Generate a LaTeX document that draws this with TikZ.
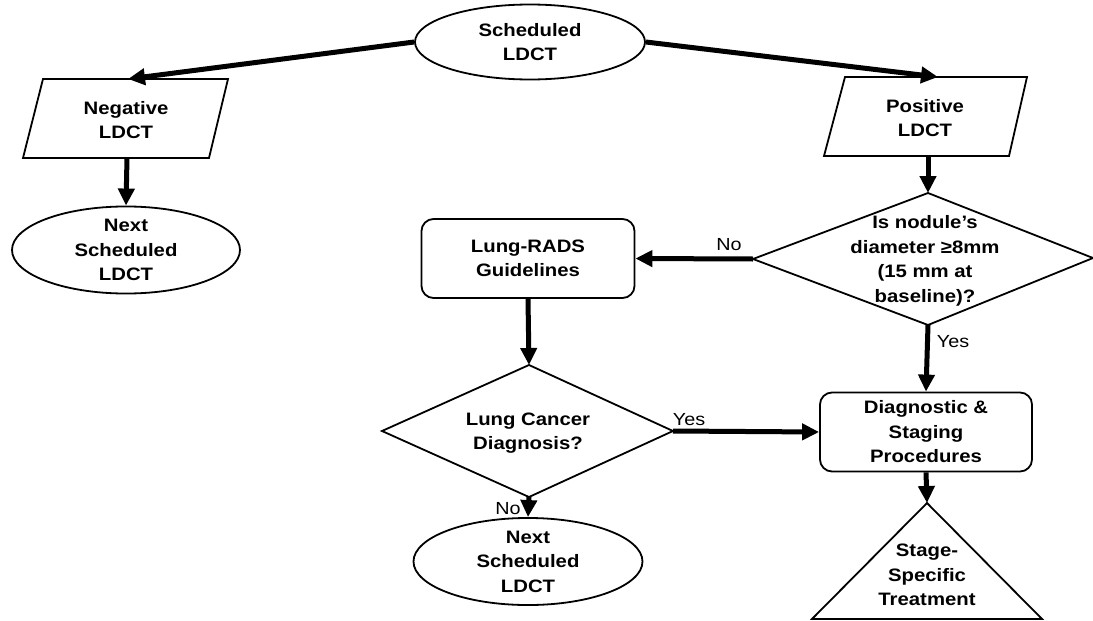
\documentclass[tikz,border=0pt]{standalone}
\usepackage{fontspec}
\setmainfont{Liberation Sans}[FakeStretch=1.13]
\usetikzlibrary{arrows.meta,shapes.geometric}
\begin{document}
\begin{tikzpicture}[x=1pt,y=-1pt,
  txt/.style={align=center,font=\fontsize{18}{24.5}\selectfont\bfseries,inner sep=0},
  lbl/.style={font=\fontsize{17.5}{20}\selectfont,inner sep=0},
  ell/.style={ellipse,draw,line width=1.8,minimum width=230,minimum height=75,inner sep=0,
    align=center,font=\fontsize{18}{24.5}\selectfont\bfseries},
  rbox/.style={rectangle,draw,line width=1.8,rounded corners=12,minimum width=212,minimum height=79,
    inner sep=0,align=center,font=\fontsize{18}{24.5}\selectfont\bfseries},
  shp/.style={draw,line width=1.8,line join=miter},
  arr/.style={line width=5,-{Triangle[length=17pt,width=16pt]}}]
\useasboundingbox (0,0) rectangle (1093,621);

% top ellipse
\node[ell] (top) at (530,42) {Scheduled\\LDCT};

% negative LDCT parallelogram
\coordinate (nA) at (43,79);
\coordinate (nB) at (228,79);
\coordinate (nC) at (209,158);
\coordinate (nD) at (23,158);
\draw[shp] (nA) -- (nB) -- (nC) -- (nD) -- cycle;
\node[txt] (neg) at (126,120) {Negative\\LDCT};
\coordinate (negin) at (128,79);
\coordinate (negout) at (127,158);

% next scheduled 1
\node[ell,minimum width=228] (next1) at (126,250) {Next\\Scheduled\\LDCT};

% positive LDCT parallelogram
\coordinate (pA) at (845,77);
\coordinate (pB) at (1027,77);
\coordinate (pC) at (1009,156);
\coordinate (pD) at (824,156);
\draw[shp] (pA) -- (pB) -- (pC) -- (pD) -- cycle;
\node[txt] (pos) at (925,118) {Positive\\LDCT};
\coordinate (posin) at (938,77);
\coordinate (posout) at (928,156);

% diamond 1
\coordinate (d1t) at (928,193);
\coordinate (d1r) at (1093,258);
\coordinate (d1b) at (928,325);
\coordinate (d1l) at (753,259);
\draw[shp] (d1t) -- (d1r) -- (d1b) -- (d1l) -- cycle;
\node[txt] (q1) at (925,261) {Is nodule’s\\diameter ≥8mm\\(15 mm at\\baseline)?};

% Lung-RADS
\node[rbox,minimum width=213] (rads) at (528,258.5) {Lung-RADS\\Guidelines};

% diamond 2
\coordinate (d2t) at (529,365);
\coordinate (d2r) at (673,431);
\coordinate (d2b) at (529,497);
\coordinate (d2l) at (382,431);
\draw[shp] (d2t) -- (d2r) -- (d2b) -- (d2l) -- cycle;
\node[txt] (q2) at (528,433) {Lung Cancer\\Diagnosis?};

% next scheduled 2
\node[ell,minimum width=229,minimum height=73] (next2) at (528,561.5) {Next\\Scheduled\\LDCT};

% Diagnostic box
\node[rbox] (diag) at (926,432) {Diagnostic \&\\Staging\\Procedures};

% triangle
\coordinate (tt) at (927,503);
\coordinate (tr) at (1042,619);
\coordinate (tl) at (812,619);
\draw[shp] (tt) -- (tr) -- (tl) -- cycle;
\node[txt] (treat) at (927,575) {Stage-\\Specific\\Treatment};

% connectors
\draw[arr] (top.west) -- (negin);
\draw[arr] (top.east) -- (posin);
\draw[arr] (negout) -- (next1.north);
\draw[arr] (posout) -- (d1t);
\draw[arr] (d1l) -- (rads.east);
\draw[arr] (rads.south) -- (d2t);
\draw[arr] (d2r) -- (diag.west);
\draw[arr] (d2b) -- (next2.north);
\draw[arr] (d1b) -- (diag.north);
\draw[arr] (diag.south) -- (tt);

% labels
\node[lbl] (no1) at (729,245) {No};
\node[lbl] (yes1) at (953,342) {Yes};
\node[lbl] (yes2) at (689,420) {Yes};
\node[lbl] (no2) at (508,509) {No};
\end{tikzpicture}
\end{document}
